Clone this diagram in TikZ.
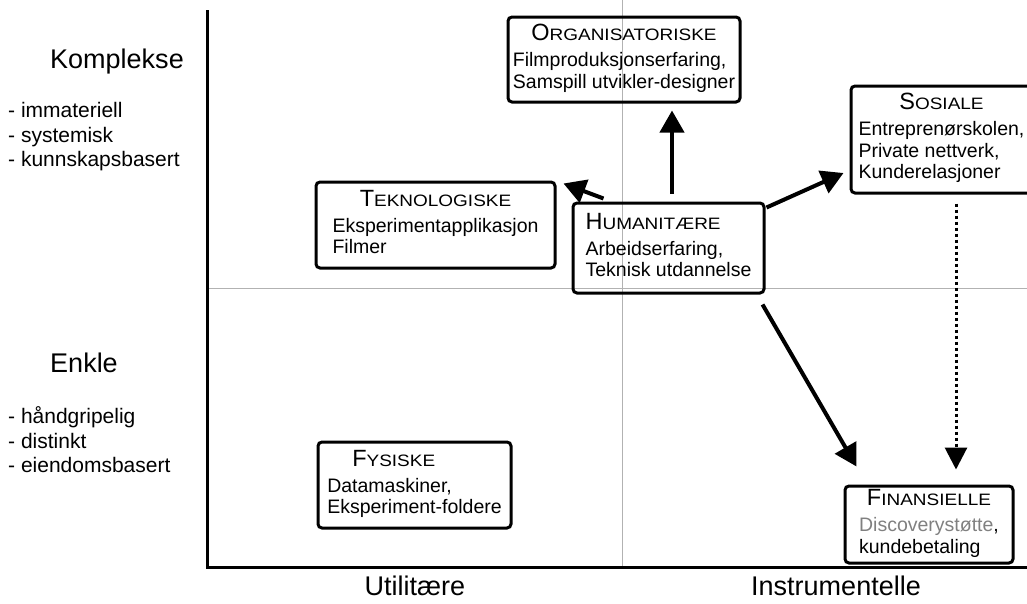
\documentclass[tikz,border=0pt]{standalone}
\usepackage{fontspec}
\setmainfont{Liberation Sans}
\newfontfamily\bredfont[FakeStretch=1.15]{Liberation Sans}
\usepackage{tikz}
\usetikzlibrary{arrows.meta,positioning,calc}

\newcommand{\brodtekst}{\fontsize{19.5}{21.5}\selectfont}
\newcommand{\kapteller}[2]{{\fontsize{23.5}{26}\selectfont #1}{\bredfont\fontsize{16.5}{26}\selectfont #2}}
\newcommand{\kort}[3]{\begin{tabular}{@{}l@{}}\multicolumn{1}{@{}#1@{}}{#2}\\[4.5pt] #3\end{tabular}}

\tikzset{
    kapital/.style={draw, rectangle, line width=3pt, rounded corners=4pt, inner sep=0pt, font=\brodtekst},
    akse/.style={line width=3pt},
    hjelpelinje/.style={gray!60, line width=0.8pt},
    aksetekst/.style={font=\fontsize{27}{30}\selectfont},
    liste/.style={align=left, inner sep=0pt, anchor=west, font=\fontsize{21}{24.5}\selectfont},
    pil/.style={line width=4pt, -{Triangle[length=22pt,width=24pt]}},
    prikkpil/.style={line width=3pt, dash pattern=on 3pt off 3pt, -{Triangle[length=22pt,width=22pt]}}
}

\begin{document}
\begin{tikzpicture}[x=1pt,y=-1pt]
    \useasboundingbox (0,0) rectangle (1027,603);

    % kvadranter
    \draw[hjelpelinje] (622,0) -- (622,567);
    \draw[hjelpelinje] (207,288) -- (1027,288);
    \draw[akse] (207,10) -- (207,567) -- (1027,567);

    % aksetekster
    \node[aksetekst] (komplekse) at (117,62) {Komplekse};
    \node[liste] (kompliste) at (8,137) {- immateriell\\- systemisk\\- kunnskapsbasert};
    \node[aksetekst] (enkle) at (84,363) {Enkle};
    \node[liste] (enkliste) at (8,440) {- håndgripelig\\- distinkt\\- eiendomsbasert};
    \node[aksetekst] (utilitaere) at (415,586) {Utilitære};
    \node[aksetekst] (instrumentelle) at (836,586) {Instrumentelle};

    % kapitalformer
    \node[kapital, minimum width=232pt, minimum height=85pt] (org) at (624,59.5)
        {\kort{c}{\kapteller{O}{RGANISATORISKE}}{Filmproduksjonserfaring,\\ Samspill utvikler-designer}};
    \node[kapital, minimum width=181pt, minimum height=107pt] (sos) at (941.5,139.5)
        {\kort{c}{\kapteller{S}{OSIALE}}{Entreprenørskolen,\\ Private nettverk,\\ Kunderelasjoner}};
    \node[kapital, minimum width=239pt, minimum height=86pt] (tek) at (435.5,225)
        {\kort{c}{\kapteller{T}{EKNOLOGISKE}}{Eksperimentapplikasjon\\ Filmer}};
    \node[kapital, minimum width=191pt, minimum height=90pt] (hum) at (668.5,248)
        {\kort{l}{\kapteller{H}{UMANITÆRE}}{Arbeidserfaring,\\ Teknisk utdannelse}};
    \node[kapital, minimum width=193pt, minimum height=86pt] (fys) at (414.5,485)
        {\kort{l}{\hspace*{25pt}\kapteller{F}{YSISKE}}{Datamaskiner,\\ Eksperiment-foldere}};
    \node[kapital, minimum width=168pt, minimum height=77pt] (fin) at (929,524.5)
        {\kort{c}{\kapteller{F}{INANSIELLE}}{\textcolor{gray}{Discoverystøtte},\\ kundebetaling}};

    % overganger
    \draw[pil] ($(hum.north)+(3.5,-8)$) -- ($(org.south)+(48,7)$);
    \draw[pil] ($(hum.north west)+(32,-3)$) -- ($(tek.north east)+(7,3)$);
    \draw[pil] ($(hum.north east)+(1,6)$) -- ($(sos.west)+(-6,33.5)$);
    \draw[pil] ($(hum.south east)+(-3,10)$) -- ($(fin.north west)+(13,-18)$);
    \draw[prikkpil] ($(sos.south)+(14.5,9)$) -- ($(fin.north)+(27,-15)$);
\end{tikzpicture}
\end{document}
